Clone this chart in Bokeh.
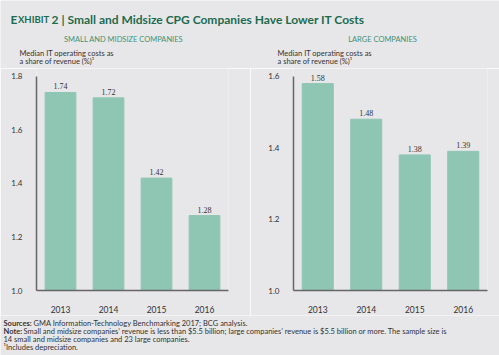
from bokeh.plotting import figure
from bokeh.models import ColumnDataSource, LabelSet, Label, FixedTicker, PrintfTickFormatter, Range1d, FactorRange
from bokeh.layouts import column, row
from bokeh.embed import file_html
from bokeh.resources import INLINE

years = ["2013", "2014", "2015", "2016"]
small_values = [1.74, 1.72, 1.42, 1.28]
large_values = [1.58, 1.48, 1.38, 1.39]
small_ticks = [1.0, 1.2, 1.4, 1.6, 1.8]
large_ticks = [1.0, 1.2, 1.4, 1.6]

BG = "#e7e7e9"
BAR = "#8fc6b3"
GREEN_T = "#1d6b4f"
GREEN_S = "#3f9274"
TXT = "#333333"
FONT = "Lato"

HEAD_H = 68
PANEL_H = 247
AXIS_PX = 216   # pixels between lowest and highest tick
TOP_PAD = 8     # pixels of plot area above the highest tick


def blank(w, h):
    p = figure(width=w, height=h, x_range=Range1d(0, w), y_range=Range1d(h, 0),
               output_backend="svg", toolbar_location=None, min_border=0,
               background_fill_color=BG, border_fill_color=BG, outline_line_color=None)
    p.axis.visible = False
    p.grid.visible = False
    return p


def lab(p, x, y, text, size, color=TXT, style="normal", align="left", baseline="middle"):
    p.add_layout(Label(x=x, y=y, text=text, text_font=FONT, text_font_size=size,
                       text_color=color, text_font_style=style, text_align=align,
                       text_baseline=baseline))


# header: title, panel subtitles and y-axis captions
head = blank(499, HEAD_H)
lab(head, 10, 19, "E", "12px", GREEN_T, "bold", baseline="alphabetic")
lab(head, 17.5, 19, "XHIBIT", "9.5px", GREEN_T, "bold", baseline="alphabetic")
lab(head, 51, 19, "2 | Small and Midsize CPG Companies Have Lower IT Costs", "12px", GREEN_T, "bold",
    baseline="alphabetic")
lab(head, 123, 39, "SMALL AND MIDSIZE COMPANIES", "7.5px", GREEN_S, align="center")
lab(head, 382, 39, "LARGE COMPANIES", "7.5px", GREEN_S, align="center")
for x0 in (19, 277):
    lab(head, x0, 53, "Median IT operating costs as", "7.5px")
    lab(head, x0, 61, "a share of revenue (%)\u00b9", "7.5px")


def panel(values, ticks, w, bl, br):
    lo, hi = ticks[0], ticks[-1]
    ymax = hi + TOP_PAD * (hi - lo) / AXIS_PX
    src = ColumnDataSource(dict(x=years, top=values, label=[f"{v:.2f}" for v in values]))
    p = figure(x_range=FactorRange(*years), y_range=Range1d(lo, ymax), width=w, height=PANEL_H,
               output_backend="svg", toolbar_location=None,
               min_border_left=bl, min_border_right=br, min_border_top=0, min_border_bottom=23,
               background_fill_color=BG, border_fill_color=BG, outline_line_color=None)
    p.vbar(x="x", top="top", bottom=lo, width=0.64, source=src, color=BAR)
    p.add_layout(LabelSet(x="x", y="top", text="label", source=src, text_align="center",
                          text_baseline="bottom", y_offset=3, text_font=FONT,
                          text_font_size="8px", text_color=TXT))
    p.grid.visible = False
    for ax in (p.xaxis, p.yaxis):
        ax.axis_line_color = "#666666"
        ax.axis_line_width = 1.5
        ax.major_tick_line_color = None
        ax.minor_tick_line_color = None
        ax.major_label_text_font = FONT
        ax.major_label_text_font_size = "8px"
        ax.major_label_text_color = TXT
    p.xaxis.major_label_text_font_size = "8.5px"
    p.yaxis.ticker = FixedTicker(ticks=ticks)
    p.yaxis.formatter = PrintfTickFormatter(format="%.1f")
    p.yaxis.bounds = (lo, hi)
    p.yaxis.major_label_standoff = 8
    p.xaxis.major_label_standoff = 9
    return p


left = panel(small_values, small_ticks, 250, 36, 22)
right = panel(large_values, large_ticks, 249, 43, 12)

notes = blank(499, 40)
fs = "7.5px"
lab(notes, 3, 8, "Sources:", fs, TXT, "bold")
lab(notes, 33, 8, "GMA Information-Technology Benchmarking 2017; BCG analysis.", fs)
lab(notes, 3, 16, "Note:", fs, TXT, "bold")
lab(notes, 23, 16, "Small and midsize companies\u2019 revenue is less than $5.5 billion; large companies\u2019 revenue is $5.5 billion or more. The sample size is", fs)
lab(notes, 3, 24, "14 small and midsize companies and 23 large companies.", fs)
lab(notes, 3, 32, "\u00b9Includes depreciation.", fs)

layout = column(head, row(left, right), notes)
open("out.html", "w").write(file_html(layout, INLINE))
